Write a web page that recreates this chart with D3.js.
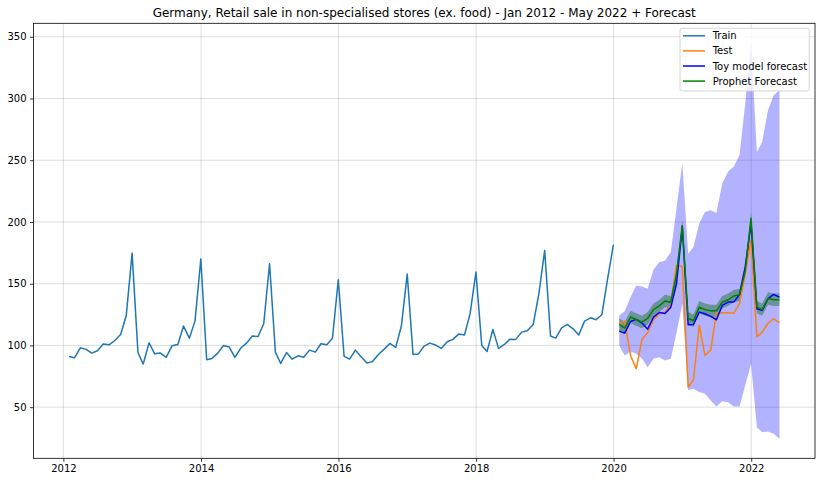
<!DOCTYPE html>
<html>
<head>
<meta charset="utf-8">
<script src="https://cdn.jsdelivr.net/npm/d3@7"></script>
<style>
  body { margin: 0; background: #fff; }
  svg { display: block; font-family: "DejaVu Sans", sans-serif; }
</style>
</head>
<body>
<div id="chart"></div>
<script>
// monthly index values
const trainStart = "2012-01";
const trainValues = [
  91.1, 90.0, 98.1, 96.8, 93.8, 95.7, 101.1, 100.5, 104.0, 108.9, 124.3, 174.8,
  94.3, 84.9, 102.2, 93.2, 93.8, 90.3, 99.7, 100.8, 115.7, 105.9, 119.7, 170.0,
  88.4, 89.5, 93.8, 100.0, 98.7, 90.3, 97.9, 101.9, 107.6, 107.3, 117.6, 166.2,
  94.6, 85.4, 94.3, 88.9, 91.6, 90.5, 96.2, 94.6, 101.4, 100.5, 105.9, 153.2,
  91.1, 88.9, 96.2, 90.8, 85.7, 87.0, 92.7, 97.0, 101.6, 98.4, 115.7, 157.8,
  92.7, 93.0, 99.5, 101.9, 100.3, 97.6, 103.0, 104.9, 109.2, 108.4, 125.7, 159.4,
  100.0, 95.1, 113.0, 97.6, 100.8, 105.1, 104.9, 110.8, 111.9, 117.0, 141.6, 177.0,
  107.6, 105.9, 114.3, 117.0, 113.5, 108.4, 119.7, 122.4, 120.8, 125.1, 153.7, 181.6
];

const testStart = "2020-01";
const testValues = [
  117.6, 119.7, 91.9, 81.1, 104.9, 110.3, 120.8, 125.7, 127.0, 132.4, 165.0, 164.0,
  66.2, 72.0, 116.2, 91.9, 96.5, 126.2, 126.5, 126.5, 126.0, 134.0, 158.0, 185.0,
  106.8, 110.8, 118.0, 121.6, 118.4
];
const toyForecast = [
  111.6, 110.0, 119.4, 121.1, 118.1, 113.2, 122.9, 126.7, 125.9, 131.0, 150.0, 195.9,
  116.7, 117.0, 127.0, 125.7, 123.5, 120.8, 132.4, 135.1, 135.1, 141.3, 163.5, 198.6,
  129.7, 128.4, 137.8, 141.3, 139.1
];
const toyLower = [
  100.0, 91.9, 95.1, 93.3, 89.2, 82.4, 89.2, 90.5, 87.8, 89.2, 110.0, 133.8,
  64.0, 64.9, 62.2, 60.8, 55.4, 50.6, 54.9, 54.0, 50.6, 50.6, 67.6, 85.2,
  33.8, 29.7, 30.3, 28.4, 24.4
];
const toyUpper = [
  124.3, 127.6, 139.1, 148.4, 147.8, 145.9, 161.3, 167.5, 168.6, 175.6, 211.0, 247.7,
  174.3, 179.7, 198.7, 208.0, 209.4, 207.3, 231.0, 240.8, 244.8, 254.3, 296.0, 345.0,
  256.6, 264.7, 290.4, 302.6, 306.6
];
const prophetForecast = [
  117, 114, 123, 121, 119, 122, 129, 132, 136, 135, 158, 197,
  122, 120, 131, 129, 128, 128, 135, 137, 140, 141, 160, 203,
  131, 129, 138, 137, 137
];
const prophetLower = [
  112, 109, 118, 116, 114, 117, 124, 127, 131, 130, 153, 191,
  117, 115, 126, 124, 123, 123, 130, 132, 135, 136, 155, 197,
  126, 124, 133, 132, 132
];
const prophetUpper = [
  122, 119, 128, 126, 124, 127, 134, 137, 141, 140, 163, 202,
  127, 125, 136, 134, 133, 133, 140, 142, 145, 146, 165, 208,
  136, 134, 143, 142, 142
];

const yTicks = [50, 100, 150, 200, 250, 300, 350];
const xTickYears = [2012, 2014, 2016, 2018, 2020, 2022];

const title = "Germany, Retail sale in non-specialised stores (ex. food) - Jan 2012 - May 2022 + Forecast";
const legendItems = [
  { name: "Train", color: "#1f77b4" },
  { name: "Test", color: "#ff7f0e" },
  { name: "Toy model forecast", color: "#0000ff" },
  { name: "Prophet Forecast", color: "#008000" }
];

// month-end dates, like pandas monthly stamps
function monthEnds(start, n) {
  const [y, m] = start.split("-").map(Number);
  return d3.range(n).map(i => new Date(y, m - 1 + i + 1, 0));
}
const trainDates = monthEnds(trainStart, trainValues.length);
const testDates = monthEnds(testStart, testValues.length);

const width = 821, height = 482;
const margin = { top: 23.3, right: 6, bottom: 23.7, left: 33.5 };

const svg = d3.select("#chart").append("svg")
  .attr("width", width)
  .attr("height", height);

// 5% padding on both axes like matplotlib autoscale
const t0 = trainDates[0], t1 = testDates[testDates.length - 1];
const pad = (t1 - t0) * 0.05;
const x = d3.scaleTime()
  .domain([new Date(+t0 - pad), new Date(+t1 + pad)])
  .range([margin.left, width - margin.right]);

const y = d3.scaleLinear()
  .domain([8.6, 360.9])
  .range([height - margin.bottom, margin.top]);

// grid
svg.append("g").selectAll("line")
  .data(yTicks).enter().append("line")
  .attr("x1", margin.left).attr("x2", width - margin.right)
  .attr("y1", d => y(d)).attr("y2", d => y(d))
  .attr("stroke", "#b0b0b0").attr("stroke-opacity", 0.5).attr("stroke-width", 0.8);

svg.append("g").selectAll("line")
  .data(xTickYears).enter().append("line")
  .attr("x1", d => x(new Date(d, 0, 1))).attr("x2", d => x(new Date(d, 0, 1)))
  .attr("y1", margin.top).attr("y2", height - margin.bottom)
  .attr("stroke", "#b0b0b0").attr("stroke-opacity", 0.5).attr("stroke-width", 0.8);

// bands
const bandData = testDates.map((d, i) => ({
  date: d, lo: toyLower[i], hi: toyUpper[i], plo: prophetLower[i], phi: prophetUpper[i]
}));

svg.append("path")
  .datum(bandData)
  .attr("fill", "#0000ff")
  .attr("fill-opacity", 0.3)
  .attr("d", d3.area().x(d => x(d.date)).y0(d => y(d.lo)).y1(d => y(d.hi)));

svg.append("path")
  .datum(bandData)
  .attr("fill", "#006400")
  .attr("fill-opacity", 0.4)
  .attr("d", d3.area().x(d => x(d.date)).y0(d => y(d.plo)).y1(d => y(d.phi)));

// lines
const line = d3.line().x(d => x(d[0])).y(d => y(d[1]));
const series = [
  { dates: trainDates, values: trainValues, color: "#1f77b4" },
  { dates: testDates, values: testValues, color: "#ff7f0e" },
  { dates: testDates, values: toyForecast, color: "#0000ff" },
  { dates: testDates, values: prophetForecast, color: "#008000" }
];
series.forEach(s => {
  svg.append("path")
    .datum(d3.zip(s.dates, s.values))
    .attr("fill", "none")
    .attr("stroke", s.color)
    .attr("stroke-width", 1.5)
    .attr("stroke-linejoin", "round")
    .attr("d", line);
});

// axes
const xAxis = d3.axisBottom(x)
  .tickValues(xTickYears.map(yr => new Date(yr, 0, 1)))
  .tickFormat(d3.timeFormat("%Y"))
  .tickSize(3.5).tickPadding(3.5);
const yAxis = d3.axisLeft(y)
  .tickValues(yTicks)
  .tickSize(3.5).tickPadding(3.5);

const gx = svg.append("g")
  .attr("transform", `translate(0,${height - margin.bottom})`)
  .call(xAxis);
const gy = svg.append("g")
  .attr("transform", `translate(${margin.left},0)`)
  .call(yAxis);
[gx, gy].forEach(g => {
  g.select(".domain").remove();
  g.selectAll("line").attr("stroke", "#000").attr("stroke-width", 0.8);
  g.selectAll("text").attr("fill", "#000")
    .style("font-family", "DejaVu Sans").style("font-size", "10px");
});

// frame
svg.append("rect")
  .attr("x", margin.left).attr("y", margin.top)
  .attr("width", width - margin.right - margin.left)
  .attr("height", height - margin.bottom - margin.top)
  .attr("fill", "none").attr("stroke", "#000").attr("stroke-width", 0.8);

// title
svg.append("text")
  .attr("x", (margin.left + width - margin.right) / 2)
  .attr("y", 17)
  .attr("text-anchor", "middle")
  .style("font-size", "12px")
  .attr("fill", "#000")
  .text(title);

// legend
const lg = svg.append("g").attr("transform", "translate(680,28.3)");
lg.append("rect")
  .attr("width", 129.3).attr("height", 62.7)
  .attr("rx", 2.5)
  .attr("fill", "#fff").attr("fill-opacity", 0.8)
  .attr("stroke", "#cccccc").attr("stroke-width", 0.8);
const rows = lg.selectAll("g.item")
  .data(legendItems).enter().append("g")
  .attr("class", "item")
  .attr("transform", (d, i) => `translate(0,${7.5 + i * 15.1})`);
rows.append("line")
  .attr("x1", 3).attr("x2", 25)
  .attr("stroke", d => d.color).attr("stroke-width", 1.5);
rows.append("text")
  .attr("x", 32.7).attr("dy", "0.35em")
  .style("font-size", "10px")
  .attr("fill", "#000")
  .text(d => d.name);
</script>
</body>
</html>
